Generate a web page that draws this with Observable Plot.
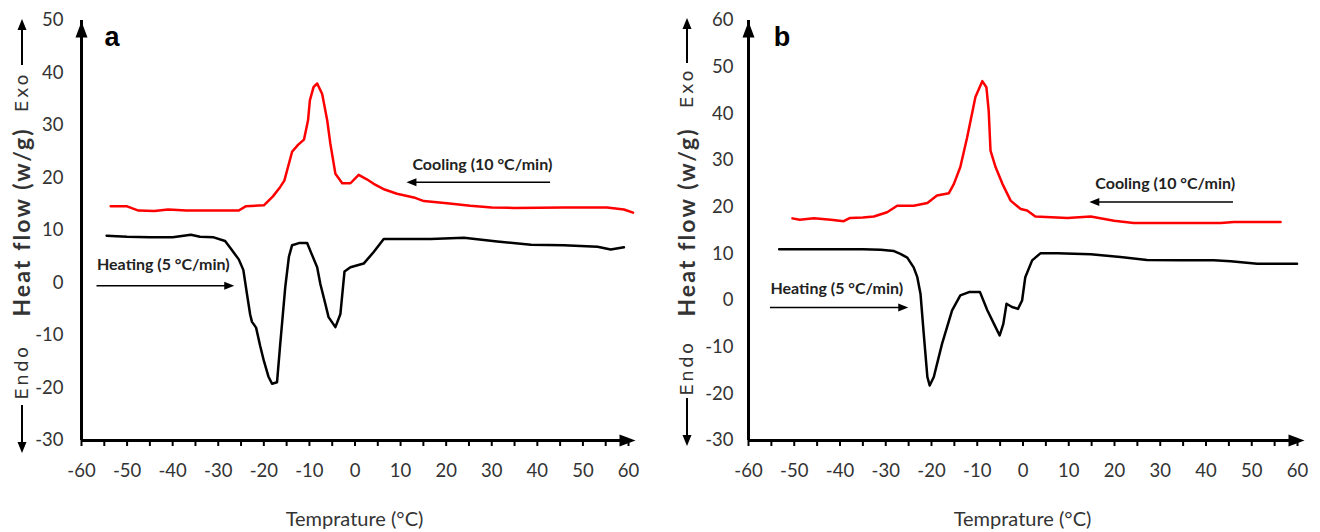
<!DOCTYPE html>
<html><head><meta charset="utf-8">
<script src="https://cdn.jsdelivr.net/npm/d3@7"></script>
<script src="https://cdn.jsdelivr.net/npm/@observablehq/plot@0.6"></script>
<style>body{margin:0;background:#fff}#wrap{display:flex;width:1320px;height:532px}svg{display:block}</style>
</head><body><div id="wrap"></div>
<script>
// ---------- tick labels ----------
const xTicks = [-60,-50,-40,-30,-20,-10,0,10,20,30,40,50,60];
const xMinorTicks = [-60,-55,-50,-45,-40,-35,-30,-25,-20,-15,-10,-5,0,5,10,15,20,25,30,35,40,45,50,55,60];
const yTicksA = [-30,-20,-10,0,10,20,30,40,50];
const yTicksB = [-30,-20,-10,0,10,20,30,40,50,60];

// ---------- panel a : cooling (red) ----------
const coolA_T = [-53.6,-50,-47.5,-44,-41,-37,-33,-28,-25.5,-24,-20,-18,-16.4,-15.5,-13.8,-12.5,-11.2,-10.3,-9.9,-9.1,-8.3,-7.2,-6.1,-5.4,-4.3,-2.8,-1,0.8,2.5,4.1,6.5,9.2,12.9,15.1,20.2,25.3,30,34.8,45.8,55.3,59,61];
const coolA_H = [14.6,14.6,13.8,13.7,14.0,13.8,13.8,13.8,13.8,14.6,14.8,16.5,18.3,19.5,25,26.3,27.3,31,34.8,37.3,38,36,31,26.5,20.8,19,19,20.6,19.8,18.9,17.8,17,16.3,15.6,15.2,14.7,14.4,14.3,14.4,14.4,14,13.4];
// ---------- panel a : heating (black) ----------
const heatA_T = [-54.5,-50,-45,-40,-36,-34,-31,-28.5,-27.3,-25.5,-24.5,-23.7,-23,-22.6,-21.7,-20.8,-20,-19,-18.2,-17.1,-16.4,-15.3,-14.5,-13.8,-12.3,-10.5,-9.5,-8.3,-7.6,-6.5,-5.8,-4.3,-3.2,-2.3,-1,1.9,4.1,6.3,16.6,23.9,31.2,38.6,45.8,53.2,56.1,59];
const heatA_H = [9.0,8.8,8.7,8.7,9.2,8.8,8.7,8.0,6.6,4.5,2.5,-2.1,-6,-7.4,-8.5,-12,-14.8,-17.8,-19.2,-18.9,-11.6,-0.8,5,7.2,7.6,7.6,5.5,3.0,-0.2,-4,-6.5,-8.4,-5.9,2.2,3.0,3.7,5.9,8.4,8.4,8.6,7.9,7.3,7.2,6.9,6.4,6.8];

// ---------- panel b : cooling (red) ----------
const coolB_T = [-50.4,-48.8,-45.7,-42,-39.2,-37.8,-35,-32.6,-29.7,-27.5,-23.9,-20.9,-18.8,-16.2,-15.1,-13.7,-12.2,-10.4,-8.9,-8.0,-7.5,-7.1,-6.0,-4.5,-2.7,-0.5,0.9,2.7,9.7,14.8,19.9,24.2,34.4,43.2,46.1,56.3];
const coolB_H = [17.6,17.3,17.6,17.3,17.0,17.7,17.8,18.0,18.9,20.3,20.3,20.9,22.5,23.0,25,28.6,35,43.6,47,45.7,40.7,32.1,28.6,25,21.4,19.6,19.3,18.0,17.7,18.0,17.1,16.6,16.6,16.6,16.8,16.8];
// ---------- panel b : heating (black) ----------
const heatB_T = [-53.3,-45,-40,-35,-31.1,-28.2,-26.8,-25.3,-23.9,-23.1,-22.4,-21.7,-20.9,-20.4,-19.5,-17.7,-15.5,-13.7,-11.8,-9.4,-7.8,-6.0,-5.1,-4.3,-3.6,-2.4,-1.1,-0.2,0.5,2.0,3.8,7.5,14.8,21.3,27.1,34.4,41.7,45.4,51.2,59.9];
const heatB_H = [11.0,11.0,11.0,11.0,10.9,10.6,10.0,9.2,7.1,5.0,1.4,-7.1,-16.4,-18.2,-16.4,-9.3,-2.1,1.1,1.8,1.8,-2.1,-5.7,-7.5,-5.0,-0.7,-1.4,-1.8,0,5.0,8.6,10.1,10.1,9.9,9.3,8.7,8.6,8.6,8.4,7.9,7.9];

const heatingLabel = "Heating (5 °C/min)";
const coolingLabel = "Cooling (10 °C/min)";
const xTitle = "Temprature (°C)";
const yTitle = "Heat flow (w/g)";

const bigHead = {draw(c){c.moveTo(0,-9);c.lineTo(6,7);c.lineTo(-6,7);c.closePath();}};
const smallHead = {draw(c){c.moveTo(0,-6);c.lineTo(4,4);c.lineTo(-4,4);c.closePath();}};

const FONT = "Lato, 'Open Sans', sans-serif";
const INK = "#333";

function panel(cfg) {
  const [y0, y1] = cfg.yDomain;
  const svg = Plot.plot({
    width: 660, height: 532,
    marginTop: 20, marginBottom: 92, marginLeft: cfg.ml, marginRight: cfg.mr,
    x: {domain: [-60, 60]},
    y: {domain: cfg.yDomain},
    style: {fontFamily: FONT, color: INK, background: "#fff", overflow: "visible"},
    marks: [
      Plot.axisX({ticks: xTicks, tickSize: 0, tickPadding: 23, fontSize: 18.5, tickFormat: d => String(d), label: null}),
      Plot.axisX({ticks: xMinorTicks, tickSize: 6, tickFormat: () => "", stroke: "#000", strokeWidth: 2, label: null}),
      Plot.axisY({ticks: cfg.yTicks, tickSize: 0, tickPadding: cfg.pad, fontSize: 18.5, tickFormat: d => String(d), label: null}),
      Plot.ruleY([y0], {x1: -60, x2: 60, stroke: "#000", strokeWidth: 3}),
      Plot.ruleX([-60], {y1: y0, y2: y1, stroke: "#000", strokeWidth: 3}),
      Plot.dot([{x: -60, y: y1}], {x: "x", y: "y", symbol: bigHead, fill: "#000", stroke: "none", dy: 10}),
      Plot.dot([{x: 60, y: y0}], {x: "x", y: "y", symbol: bigHead, rotate: 90, fill: "#000", stroke: "none", dx: -2}),
      Plot.line(cfg.coolT, {x: cfg.coolT, y: cfg.coolH, stroke: "#ff0000", strokeWidth: 2.5}),
      Plot.line(cfg.heatT, {x: cfg.heatT, y: cfg.heatH, stroke: "#000", strokeWidth: 2.5}),
      // heating annotation
      Plot.text([heatingLabel], {x: cfg.heat.x1, y: cfg.heat.ty, text: d => d, textAnchor: "start", fontSize: 16, fontWeight: 700, fill: "#222", fontFamily: FONT}),
      Plot.ruleY([cfg.heat.ay], {x1: cfg.heat.x1, x2: cfg.heat.x2, stroke: "#000", strokeWidth: 1.5}),
      Plot.dot([{x: cfg.heat.x2, y: cfg.heat.ay}], {x: "x", y: "y", symbol: smallHead, rotate: 90, fill: "#000", stroke: "none"}),
      // cooling annotation
      Plot.text([coolingLabel], {x: cfg.cool.x1, y: cfg.cool.ty, text: d => d, textAnchor: "start", fontSize: 16, fontWeight: 700, fill: "#222", fontFamily: FONT}),
      Plot.ruleY([cfg.cool.ay], {x1: cfg.cool.x1, x2: cfg.cool.x2, stroke: "#000", strokeWidth: 1.5}),
      Plot.dot([{x: cfg.cool.x1, y: cfg.cool.ay}], {x: "x", y: "y", symbol: smallHead, rotate: -90, fill: "#000", stroke: "none"})
    ]
  });
  const s = d3.select(svg);
  const g = s.append("g").attr("fill", INK);
  const cx = cfg.sideX;
  const rot = (y, txt, size, weight, family, ls) => g.append("text")
    .attr("transform", `translate(${cx},${y}) rotate(-90)`)
    .attr("text-anchor", "middle").attr("dominant-baseline", "central")
    .attr("font-size", size).attr("font-weight", weight).attr("font-family", family)
    .attr("letter-spacing", ls).text(txt);
  rot(cfg.exoY, "Exo", 18, 400, "'DejaVu Sans', sans-serif", 2.5);
  rot(cfg.heatY, yTitle, 23, 700, FONT, 2.1);
  rot(cfg.endoY, "Endo", 18, 400, "'DejaVu Sans', sans-serif", 2.5);
  const ax = cx + 1;
  g.append("line").attr("x1", ax).attr("x2", ax).attr("y1", cfg.exoA[1]).attr("y2", cfg.exoA[0] + 8).attr("stroke", "#000").attr("stroke-width", 2);
  g.append("path").attr("d", `M${ax},${cfg.exoA[0]}L${ax-4.5},${cfg.exoA[0]+11}L${ax+4.5},${cfg.exoA[0]+11}Z`).attr("fill", "#000");
  g.append("line").attr("x1", ax).attr("x2", ax).attr("y1", cfg.endoA[0]).attr("y2", cfg.endoA[1] - 8).attr("stroke", "#000").attr("stroke-width", 2);
  g.append("path").attr("d", `M${ax},${cfg.endoA[1]}L${ax-4.5},${cfg.endoA[1]-11}L${ax+4.5},${cfg.endoA[1]-11}Z`).attr("fill", "#000");
  s.append("text").attr("x", cfg.letterX).attr("y", 46).attr("font-size", 27).attr("font-weight", 700)
    .attr("font-family", "'Liberation Sans', Arial, sans-serif").attr("fill", "#000").text(cfg.letter);
  s.append("text").attr("x", cfg.ml + (660 - cfg.ml - cfg.mr) / 2).attr("y", 518).attr("text-anchor", "middle")
    .attr("dominant-baseline", "central").attr("font-size", 20).attr("font-family", FONT).attr("fill", INK).text(xTitle);
  return svg;
}

const wrap = document.getElementById("wrap");
wrap.append(panel({
  yDomain: [-30, 50], yTicks: yTicksA, ml: 81, mr: 32, pad: 18,
  coolT: coolA_T, coolH: coolA_H, heatT: heatA_T, heatH: heatA_H,
  heat: {x1: -56.6, x2: -27.8, ty: 3.5, ay: -0.5},
  cool: {x1: 12.6, x2: 42.9, ty: 22.5, ay: 19.2},
  sideX: 21, exoY: 92, heatY: 222, endoY: 372, exoA: [19, 65], endoA: [405, 453],
  letter: "a", letterX: 112
}));
wrap.append(panel({
  yDomain: [-30, 60], yTicks: yTicksB, ml: 88, mr: 23, pad: 15,
  coolT: coolB_T, coolH: coolB_H, heatT: heatB_T, heatH: heatB_H,
  heat: {x1: -55.2, x2: -26.4, ty: 2.4, ay: -1.5},
  cool: {x1: 15.8, x2: 46.0, ty: 25.0, ay: 21.1},
  sideX: 26, exoY: 88, heatY: 222, endoY: 368, exoA: [18, 63], endoA: [398, 446],
  letter: "b", letterX: 122
}));
</script>
</body></html>
